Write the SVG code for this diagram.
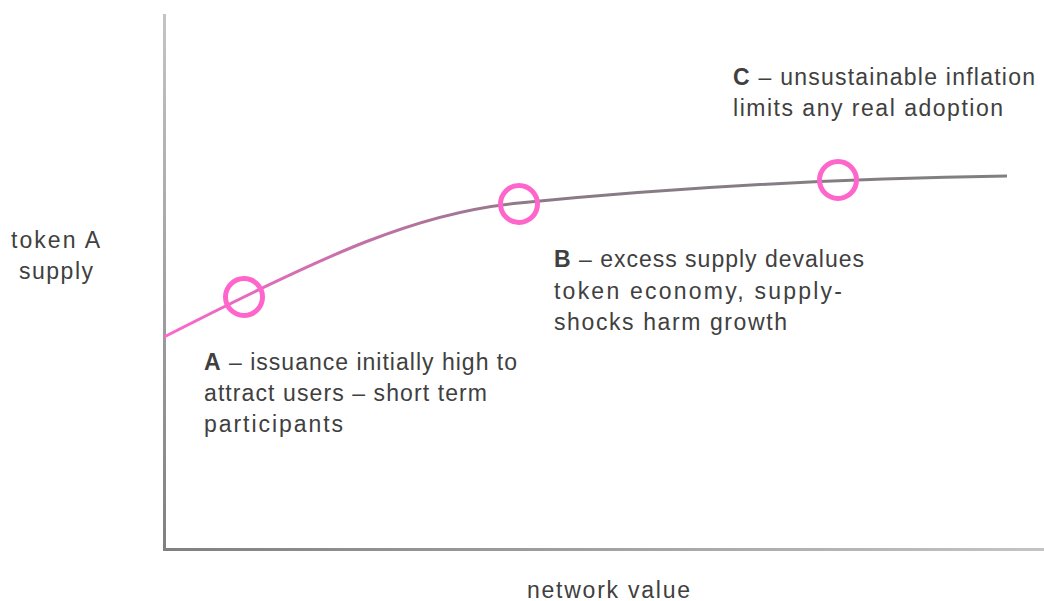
<svg xmlns="http://www.w3.org/2000/svg" width="1044" height="601" viewBox="0 0 1044 601">
<defs>
<linearGradient id="gv" x1="0" y1="14" x2="0" y2="551" gradientUnits="userSpaceOnUse">
<stop offset="0" stop-color="#c4c4c4"/><stop offset="1" stop-color="#808080"/>
</linearGradient>
<linearGradient id="gh" x1="163" y1="0" x2="1044" y2="0" gradientUnits="userSpaceOnUse">
<stop offset="0" stop-color="#808080"/><stop offset="1" stop-color="#c4c4c4"/>
</linearGradient>
<linearGradient id="gc" x1="164" y1="0" x2="1007" y2="0" gradientUnits="userSpaceOnUse">
<stop offset="0" stop-color="#ff66cc"/><stop offset="0.45" stop-color="#8a7a86"/><stop offset="1" stop-color="#808080"/>
</linearGradient>
</defs>
<style>
text{font-family:"Liberation Sans",Arial,sans-serif;font-size:23px;fill:#404040}
.b{font-weight:bold}
.mk{fill:none;stroke:#ff66cc;stroke-width:5}
</style>
<g id="axes">
<rect x="163" y="14" width="3" height="537" fill="url(#gv)"/>
<rect x="163" y="548" width="881" height="3" fill="url(#gh)"/>
</g>
<g id="connectors">
<path d="M164,337 C330,252 420,212 519,203 C650,190 800,179 1007,176" fill="none" stroke="url(#gc)" stroke-width="3"/>
</g>
<g id="markerA"><circle class="mk" cx="244" cy="297" r="18.5"/></g>
<g id="markerB"><circle class="mk" cx="519" cy="204" r="18.5"/></g>
<g id="markerC"><circle class="mk" cx="838" cy="180" r="18.5"/></g>
<g id="ylabel"><text x="11" y="248" textLength="89" lengthAdjust="spacing">token A</text><text x="19" y="279" textLength="74" lengthAdjust="spacing">supply</text></g>
<g id="xlabel"><text x="527" y="598" textLength="163" lengthAdjust="spacing">network value</text></g>
<g id="labelA"><text x="204" y="370" textLength="313" lengthAdjust="spacing"><tspan class="b">A</tspan> – issuance initially high to</text><text x="204" y="401" textLength="283" lengthAdjust="spacing">attract users – short term</text><text x="204" y="432" textLength="139" lengthAdjust="spacing">participants</text></g>
<g id="labelB"><text x="554" y="267" textLength="310" lengthAdjust="spacing"><tspan class="b">B</tspan> – excess supply devalues</text><text x="554" y="299" textLength="288" lengthAdjust="spacing">token economy, supply-</text><text x="554" y="330" textLength="233" lengthAdjust="spacing">shocks harm growth</text></g>
<g id="labelC"><text x="733" y="85" textLength="302" lengthAdjust="spacing"><tspan class="b">C</tspan> – unsustainable inflation</text><text x="733" y="116" textLength="270" lengthAdjust="spacing">limits any real adoption</text></g>
</svg>
